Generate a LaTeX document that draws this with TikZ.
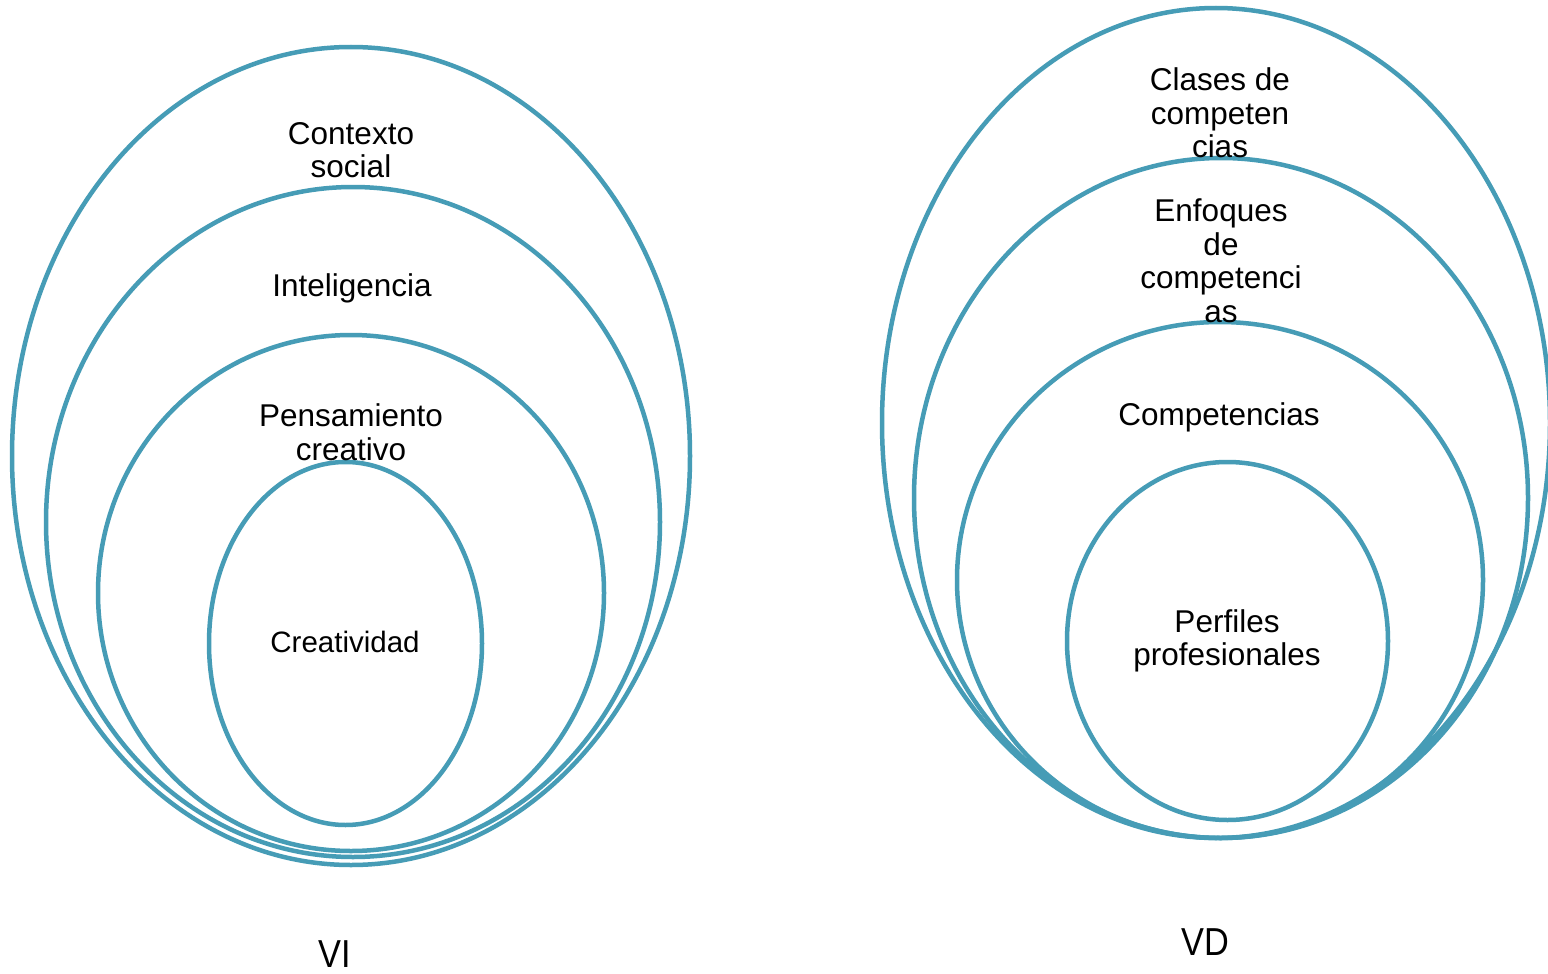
\documentclass[tikz,border=0pt]{standalone}
\usepackage{fontspec}
\setmainfont{Liberation Sans}
\usetikzlibrary{shapes.geometric}
\definecolor{ring}{RGB}{70,156,182}
\tikzset{
  ring/.style={ellipse, draw=ring, line width=4.5pt, inner sep=0pt, outer sep=0pt},
  lbl/.style={align=center, inner sep=0pt, font=\fontsize{31.5}{33.5}\selectfont},
  big/.style={inner sep=0pt, font=\fontsize{39}{40}\selectfont, xscale=0.88}
}
\begin{document}
\begin{tikzpicture}[x=1pt,y=-1pt]
\useasboundingbox (0,0) rectangle (1548,974);
\fill[white] (0,0) rectangle (1548,974);
% left
\node[ring, minimum width=678pt, minimum height=818pt] (l1) at (351,456) {};
\node[ring, minimum width=614pt, minimum height=670pt] (l2) at (353,522) {};
\node[ring, minimum width=506pt, minimum height=516pt] (l3) at (351,593) {};
\node[ring, minimum width=273pt, minimum height=363pt] (l4) at (345.5,643.5) {};
% right
\node[ring, minimum width=668pt, minimum height=830pt] (r1) at (1216,423) {};
\node[ring, minimum width=614pt, minimum height=680pt] (r2) at (1221,498) {};
\node[ring, minimum width=526pt, minimum height=516pt] (r3) at (1220,580) {};
\node[ring, minimum width=321pt, minimum height=358pt] (r4) at (1227.5,641) {};
% labels
\node[lbl] (t1) at (351,150) {Contexto\\social};
\node[lbl] (t2) at (352,288) {Inteligencia};
\node[lbl] (t3) at (351,432) {Pensamiento\\creativo};
\node[lbl, font=\fontsize{29.5}{33}\selectfont] (t4) at (345,642) {Creatividad};
\node[lbl] (s1) at (1220,113) {Clases de\\competen\\cias};
\node[lbl] (s2) at (1221,261) {Enfoques\\de\\competenci\\as};
\node[lbl] (s3) at (1219,417) {Competencias};
\node[lbl] (s4) at (1227,641) {Perfiles\\profesionales};
\node[big] (vi) at (335,954) {VI};
\node[big] (vd) at (1205,942) {VD};
\end{tikzpicture}
\end{document}
